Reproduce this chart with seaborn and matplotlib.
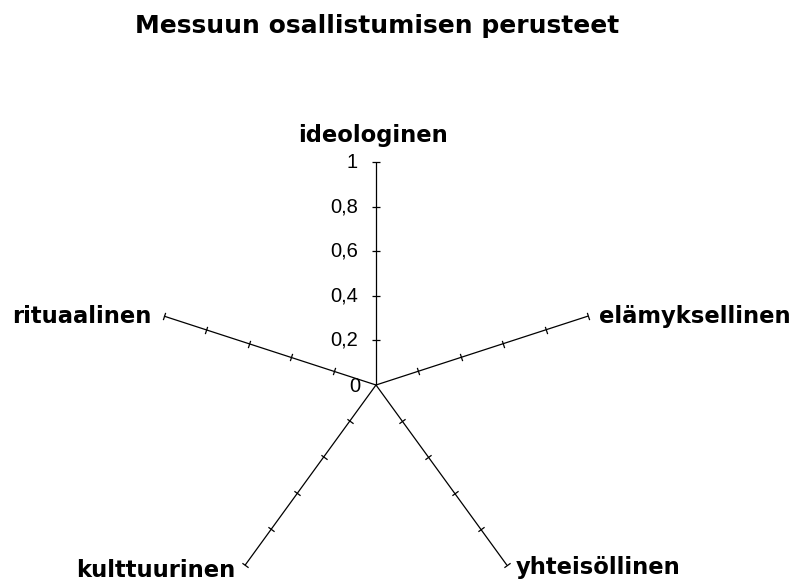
import numpy as np
import pandas as pd
import matplotlib
matplotlib.use("Agg")
import matplotlib.pyplot as plt
from matplotlib.markers import MarkerStyle
from matplotlib.transforms import Affine2D
import seaborn as sns

# ---- data ----
title = "Messuun osallistumisen perusteet"
categories = ["ideologinen", "elämyksellinen", "yhteisöllinen", "kulttuurinen", "rituaalinen"]
scale_ticks = [0.0, 0.2, 0.4, 0.6, 0.8, 1.0]
scale_labels = ["0", "0,2", "0,4", "0,6", "0,8", "1"]

sns.set_theme(style="white")
plt.rcParams["font.family"] = ["DejaVu Sans"]
plt.rcParams["text.color"] = "black"

W, H = 795, 587
fig = plt.figure(figsize=(W / 100, H / 100), dpi=100)
cx, cy, R = 376, 385, 223
ax = fig.add_axes([(cx - R) / W, (H - cy - R) / H, 2 * R / W, 2 * R / H], projection="polar")
ax.set_theta_offset(np.pi / 2)
ax.set_theta_direction(-1)
ax.set_ylim(0, 1)
ax.axis("off")

n = len(categories)
angles = [2 * np.pi * i / n for i in range(n)]

# spokes
spokes = pd.DataFrame({
    "theta": [a for a in angles for _ in range(2)],
    "r": [0.0, 1.0] * n,
    "spoke": [c for c in categories for _ in range(2)],
})
sns.lineplot(data=spokes, x="theta", y="r", units="spoke", estimator=None,
             color="black", lw=0.9, ax=ax, legend=False, sort=False)

# tick marks on each spoke
for a in angles:
    phi = np.degrees(a)
    m = MarkerStyle("|", transform=Affine2D().rotate_deg(90 - phi))
    tdf = pd.DataFrame({"theta": [a] * (len(scale_ticks) - 1), "r": scale_ticks[1:]})
    sns.scatterplot(data=tdf, x="theta", y="r", marker=m, s=30, color="black",
                    linewidth=0.9, ax=ax, legend=False, clip_on=False)

# value labels on first spoke
for v, lab in zip(scale_ticks, scale_labels):
    dx = -11.5 if v == 0 else -13
    dy = -1 if v == 0 else 0
    ax.annotate(lab, xy=(0, v), xytext=(dx, dy), textcoords="offset points",
                ha="right", va="center", fontsize=14.5, family="Liberation Sans",
                color="black", annotation_clip=False)

# category labels
offsets = [(-2, 19, "center", "center"),
           (8, 0, "left", "center"),
           (6, -1.5, "left", "center"),
           (-7, -4, "right", "center"),
           (-9, 0, "right", "center")]
for a, lab, (dx, dy, ha, va) in zip(angles, categories, offsets):
    ax.annotate(lab, xy=(a, 1.0), xytext=(dx, dy), textcoords="offset points",
                ha=ha, va=va, fontsize=16.3, fontweight="bold", color="black",
                annotation_clip=False)

fig.text(377 / W, 1 - 26 / H, title, ha="center", va="center",
         fontsize=18, fontweight="bold", color="black")

fig.savefig("out.png", dpi=100, facecolor="white")
